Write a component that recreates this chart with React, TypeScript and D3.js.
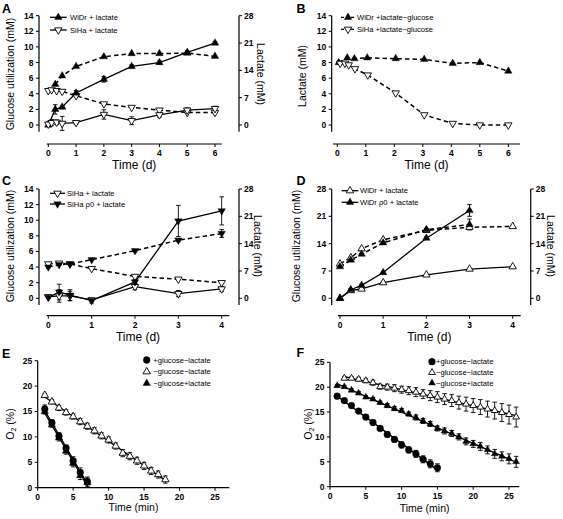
import React from "react";
import * as d3 from "d3";

const FONT = "'Liberation Sans', Arial, Helvetica, sans-serif";

// ---------- Panel A ----------
const aWidrTime = [0, 0.25, 0.5, 1, 2, 3, 4, 5, 6];
const aWidrGlucose = [0, 2.0, 2.3, 4.1, 5.85, 7.5, 8.0, 9.3, 10.5];
const aWidrGlucoseErr = [0, 0.6, 0.2, 0.3, 0.35, 0.2, 0.2, 0.2, 0.2];
const aWidrLactTime = [0.25, 0.5, 1, 2, 3, 4, 5, 6];
const aWidrLactate = [10.4, 12.6, 15.0, 17.5, 18.3, 18.3, 18.4, 17.6];
const aSihaTime = [0, 0.12, 0.3, 0.5, 1, 2, 3, 4, 5, 6];
const aSihaGlucose = [0.1, 0.3, 0.35, 0.2, 0.3, 1.35, 0.55, 1.3, 1.9, 2.1];
const aSihaGlucoseErr = [0.3, 0.4, 0.3, 0.9, 0.2, 0.6, 0.5, 0.3, 0.3, 0.3];
const aSihaLactate = [8.8, 9.0, 8.8, 8.6, 7.5, 5.4, 4.5, 3.8, 3.2, 3.2];

// ---------- Panel B ----------
const bWidrTime = [0.05, 0.35, 0.6, 1.05, 2.05, 3.05, 4.05, 5, 6];
const bWidrLactate = [8.0, 8.6, 8.5, 8.6, 8.5, 8.4, 7.9, 8.0, 6.9];
const bSihaTime = [0.1, 0.27, 0.4, 0.62, 1.07, 2.05, 3.05, 4.05, 5, 6];
const bSihaLactate = [7.9, 7.9, 7.7, 7.2, 6.4, 4.1, 1.3, 0.2, 0, 0];

// ---------- Panel C ----------
const cTime = [0, 0.25, 0.5, 1, 2, 3, 4];
const cSihaGlucose = [0.2, 0.3, 0.3, -0.2, 1.5, 0.6, 1.2];
const cSihaGlucoseErr = [0.2, 0.8, 0.6, 0.2, 0.4, 0.4, 0.3];
const cRho0Glucose = [0.1, 0.8, 0.4, -0.3, 2.1, 9.9, 11.2];
const cRho0GlucoseErr = [0.1, 1.0, 0.7, 0.3, 0.3, 2.0, 1.8];
const cSihaLactate = [8.8, 9.0, 8.8, 7.6, 5.6, 4.9, 4.0];
const cRho0Lactate = [8.0, 8.6, 8.8, 9.9, 12.2, 14.9, 16.6];
const cRho0LactateErr = [0.2, 0.2, 0.2, 0.2, 0.3, 0.4, 1.0];

// ---------- Panel D ----------
const dWidrTime = [0, 0.25, 0.5, 1, 2, 3, 4];
const dWidrGlucose = [0, 2.0, 2.4, 4.0, 6.0, 7.5, 8.1];
const dWidrLactate = [8.8, 10.4, 12.7, 15.0, 17.4, 18.2, 18.4];
const dRho0Time = [0, 0.25, 0.5, 1, 2, 3];
const dRho0Glucose = [0, 2.2, 3.3, 6.6, 15.4, 22.5];
const dRho0GlucoseErr = [0, 0.3, 0.3, 0.3, 0.3, 1.5];
const dRho0Lactate = [8.1, 9.8, 11.3, 14.2, 17.6, 18.9];
const dRho0LactateErr = [0.2, 0.2, 0.2, 0.2, 0.3, 1.4];

// ---------- Panel E ----------
const eShortTime = [1, 2, 3, 4, 5, 6, 7];
const eGlcPlusLacMinus = [15.5, 12.8, 10.2, 7.8, 5.3, 3.0, 1.2];
const eGlcPlusLacMinusErr = [0.8, 0.5, 0.6, 0.6, 0.8, 0.9, 0.9];
const eGlcMinusLacPlus = [15.0, 12.4, 9.8, 7.2, 4.8, 2.4, 1.0];
const eGlcMinusLacPlusErr = [0.5, 0.5, 0.6, 0.6, 0.7, 0.8, 0.9];
const eLongTime = [1, 2, 3, 4, 5, 6, 7, 8, 9, 10, 11, 12, 13, 14, 15, 16, 17, 18];
const eGlcMinusLacMinus = [18.2, 16.9, 15.7, 14.8, 14.0, 13.0, 12.1, 11.2, 10.2, 9.4, 8.2, 6.8, 6.2, 5.3, 4.3, 3.3, 2.6, 1.6];
const eGlcMinusLacMinusErr = [0.3, 0.4, 0.5, 0.5, 0.5, 0.6, 0.6, 0.6, 0.6, 0.6, 0.6, 0.7, 0.7, 0.7, 0.7, 0.7, 0.7, 0.7];

// ---------- Panel F ----------
const fCircleTime = [1, 2, 3, 4, 5, 6, 7, 8, 9, 10, 11, 12, 13, 14, 15];
const fGlcPlusLacMinus = [18.2, 17.3, 16.3, 15.2, 14.0, 12.9, 11.7, 10.5, 9.5, 8.4, 7.4, 6.6, 5.5, 4.6, 3.8];
const fGlcPlusLacMinusErr = [0.2, 0.2, 0.2, 0.3, 0.3, 0.4, 0.4, 0.5, 0.5, 0.6, 0.6, 0.7, 0.7, 0.8, 0.8];
const fOpenTime = [2, 3, 4, 5, 6, 7, 8, 9, 10, 11, 12, 13, 14, 15, 16, 17, 18, 19, 20, 21, 22, 23, 24, 25, 26];
const fGlcMinusLacMinus = [21.8, 21.8, 21.6, 21.3, 20.9, 20.1, 20.0, 19.8, 19.5, 19.3, 19.0, 18.6, 18.3, 18.0, 17.6, 17.3, 16.9, 16.6, 16.3, 16.0, 15.6, 15.3, 14.9, 14.5, 14.0];
const fGlcMinusLacMinusErr = [0.3, 0.3, 0.4, 0.4, 0.5, 0.5, 0.6, 0.7, 0.7, 0.8, 0.9, 0.9, 1.0, 1.1, 1.1, 1.2, 1.3, 1.4, 1.4, 1.5, 1.6, 1.7, 1.8, 1.9, 2.0];
const fTriTime = [1, 2, 3, 4, 5, 6, 7, 8, 9, 10, 11, 12, 13, 14, 15, 16, 17, 18, 19, 20, 21, 22, 23, 24, 25, 26];
const fGlcMinusLacPlus = [20.3, 20.1, 19.4, 18.8, 18.0, 17.6, 16.9, 16.3, 15.7, 15.3, 14.6, 13.9, 13.2, 12.6, 11.7, 11.2, 10.7, 10.0, 9.1, 8.6, 8.1, 7.4, 6.6, 6.1, 5.6, 5.0];
const fGlcMinusLacPlusErr = [0.2, 0.2, 0.3, 0.3, 0.3, 0.3, 0.3, 0.4, 0.4, 0.4, 0.4, 0.5, 0.5, 0.5, 0.5, 0.6, 0.6, 0.6, 0.7, 0.7, 0.8, 0.8, 0.9, 0.9, 1.0, 1.1];

// ---------- ticks / labels ----------
const dayTicks6 = [0, 1, 2, 3, 4, 5, 6];
const dayTicks4 = [0, 1, 2, 3, 4];
const glucoseTicks14 = [0, 2, 4, 6, 8, 10, 12, 14];
const ticks28 = [0, 7, 14, 21, 28];
const minTicks = [0, 5, 10, 15, 20, 25];
const o2Ticks = [0, 5, 10, 15, 20, 25];

type Shape = "up" | "down" | "circle";
interface Series {
  t: number[];
  v: number[];
  err?: number[];
  shape: Shape;
  filled: boolean;
  dashed?: boolean;
  axis?: "L" | "R";
  fit?: boolean;
}
interface LegendItem { label: string; shape: Shape; filled: boolean; dashed?: boolean }
interface LegendCfg { line?: [number, number]; mx: number; tx: number; rows: number[]; items: LegendItem[] }
interface PanelCfg {
  letter: string; letterX: number; letterY: number;
  x: d3.ScaleLinear<number, number>;
  yL: d3.ScaleLinear<number, number>;
  yR?: d3.ScaleLinear<number, number>;
  xTicks: number[]; yLTicks: number[]; yRTicks?: number[];
  axisLeftX: number; axisRightX?: number; axisBottomY: number;
  xLine: [number, number]; yLineDomain: [number, number];
  xTitle: string; xTitleY: number; xTitleSize: number;
  yTitle: React.ReactNode; yTitleX: number; yTitleY: number;
  yRTitle?: string; yRTitleX?: number;
  series: Series[];
  legend: LegendCfg;
  triSize?: number;
}

const triPath = (size: number) => d3.symbol().type(d3.symbolTriangle).size(size)() as string;
const circlePath = d3.symbol().type(d3.symbolCircle).size(36)() as string;

function Marker({ x, y, shape, filled, size }: { x: number; y: number; shape: Shape; filled: boolean; size: number }) {
  const d = shape === "circle" ? circlePath : triPath(size);
  const rot = shape === "down" ? " rotate(180)" : "";
  return (
    <path
      d={d}
      transform={`translate(${x},${y})${rot}`}
      fill={filled ? "#000" : "#fff"}
      stroke="#000"
      strokeWidth={filled ? 0.4 : 0.9}
    />
  );
}

function fitLine(t: number[], v: number[]) {
  const mt = d3.mean(t) as number;
  const mv = d3.mean(v) as number;
  const sxy = d3.sum(t, (ti, i) => (ti - mt) * (v[i] - mv));
  const sxx = d3.sum(t, (ti) => (ti - mt) * (ti - mt));
  const slope = sxy / sxx;
  const icpt = mv - slope * mt;
  const [t0, t1] = d3.extent(t) as [number, number];
  return [
    [t0, icpt + slope * t0],
    [t1, icpt + slope * t1],
  ] as [number, number][];
}

function Panel({ c }: { c: PanelCfg }) {
  const triSize = c.triSize ?? 24;
  const ys = (s: Series) => (s.axis === "R" && c.yR ? c.yR : c.yL);
  const tickFont = { fontFamily: FONT, fontSize: 8.5, fontWeight: 700 as const };
  const [yl0, yl1] = c.yLineDomain;
  return (
    <g>
      <text x={c.letterX} y={c.letterY} fontFamily={FONT} fontSize={12.5} fontWeight={700}>{c.letter}</text>
      {/* left axis */}
      <line x1={c.axisLeftX} x2={c.axisLeftX} y1={c.yL(yl1)} y2={c.yL(yl0)} stroke="#000" strokeWidth={1.2} />
      {c.yLTicks.map((v) => (
        <g key={"yl" + v}>
          <line x1={c.axisLeftX - 3} x2={c.axisLeftX} y1={c.yL(v)} y2={c.yL(v)} stroke="#000" strokeWidth={1} />
          <text x={c.axisLeftX - 5.5} y={c.yL(v)} dy="0.35em" textAnchor="end" {...tickFont}>{v}</text>
        </g>
      ))}
      {/* right axis */}
      {c.yR && c.axisRightX !== undefined && (
        <g>
          <line x1={c.axisRightX} x2={c.axisRightX} y1={c.yL(yl1)} y2={c.yL(yl0)} stroke="#000" strokeWidth={1.2} />
          {(c.yRTicks || []).map((v) => (
            <g key={"yr" + v}>
              <line x1={c.axisRightX!} x2={c.axisRightX! + 3} y1={c.yR!(v)} y2={c.yR!(v)} stroke="#000" strokeWidth={1} />
              <text x={c.axisRightX! + 5} y={c.yR!(v)} dy="0.35em" textAnchor="start" {...tickFont}>{v}</text>
            </g>
          ))}
          <text
            transform={`translate(${c.yRTitleX},${c.yTitleY}) rotate(90)`}
            textAnchor="middle"
            dy="0.35em"
            fontFamily={FONT}
            fontSize={10.5}
          >{c.yRTitle}</text>
        </g>
      )}
      {/* bottom axis */}
      <line x1={c.xLine[0]} x2={c.xLine[1]} y1={c.axisBottomY} y2={c.axisBottomY} stroke="#000" strokeWidth={1.2} />
      {c.xTicks.map((v) => (
        <g key={"x" + v}>
          <line x1={c.x(v)} x2={c.x(v)} y1={c.axisBottomY} y2={c.axisBottomY + 3} stroke="#000" strokeWidth={1} />
          <text x={c.x(v)} y={c.axisBottomY + 11.8} textAnchor="middle" {...tickFont}>{v}</text>
        </g>
      ))}
      <text x={(c.xLine[0] + c.xLine[1]) / 2} y={c.xTitleY} textAnchor="middle" fontFamily={FONT} fontSize={c.xTitleSize}>{c.xTitle}</text>
      <text
        transform={`translate(${c.yTitleX},${c.yTitleY}) rotate(-90)`}
        textAnchor="middle"
        dy="0.35em"
        fontFamily={FONT}
        fontSize={10.5}
      >{c.yTitle}</text>

      {/* lines */}
      {c.series.map((s, i) => {
        const y = ys(s);
        if (s.fit) {
          const pts = fitLine(s.t, s.v);
          return (
            <line key={"l" + i} x1={c.x(pts[0][0])} y1={y(pts[0][1])} x2={c.x(pts[1][0])} y2={y(pts[1][1])} stroke="#000" strokeWidth={1.3} />
          );
        }
        const gen = d3.line<number>().x((_, j) => c.x(s.t[j])).y((v) => y(v));
        return (
          <path key={"l" + i} d={gen(s.v) as string} fill="none" stroke="#000" strokeWidth={s.dashed ? 1.5 : 1.3} strokeDasharray={s.dashed ? "4.5,3" : undefined} />
        );
      })}
      {/* error bars */}
      {c.series.map((s, i) => {
        const y = ys(s);
        if (!s.err) return null;
        return (
          <g key={"e" + i}>
            {s.err.map((e, j) => {
              if (!e) return null;
              const cx = c.x(s.t[j]);
              const top = y(s.v[j] + e);
              const bot = y(s.v[j] - e);
              return (
                <g key={j}>
                  <line x1={cx} x2={cx} y1={top} y2={bot} stroke="#000" strokeWidth={0.9} />
                  <line x1={cx - 2.3} x2={cx + 2.3} y1={top} y2={top} stroke="#000" strokeWidth={0.9} />
                  <line x1={cx - 2.3} x2={cx + 2.3} y1={bot} y2={bot} stroke="#000" strokeWidth={0.9} />
                </g>
              );
            })}
          </g>
        );
      })}
      {/* markers */}
      {c.series.map((s, i) => {
        const y = ys(s);
        return (
          <g key={"m" + i}>
            {s.v.map((v, j) => (
              <Marker key={j} x={c.x(s.t[j])} y={y(v)} shape={s.shape} filled={s.filled} size={triSize} />
            ))}
          </g>
        );
      })}
      {/* legend */}
      {c.legend.items.map((it, k) => {
        const ry = c.legend.rows[k];
        return (
          <g key={"lg" + k}>
            {c.legend.line && (
              <line x1={c.legend.line[0]} x2={c.legend.line[1]} y1={ry} y2={ry} stroke="#000" strokeWidth={1.3} strokeDasharray={it.dashed ? "3,2" : undefined} />
            )}
            <Marker x={c.legend.mx} y={ry} shape={it.shape} filled={it.filled} size={triSize} />
            <text x={c.legend.tx} y={ry} dy="0.35em" fontFamily={FONT} fontSize={7.6}>{it.label}</text>
          </g>
        );
      })}
    </g>
  );
}

const o2Title = (
  <>
    <tspan>O</tspan>
    <tspan fontSize={7} dy={2.5}>2</tspan>
    <tspan dy={-2.5}> (%)</tspan>
  </>
);

export default function App() {
  const panels: PanelCfg[] = [
    {
      letter: "A", letterX: 2, letterY: 12.5,
      x: d3.scaleLinear().domain([0, 6]).range([48.3, 215]),
      yL: d3.scaleLinear().domain([0, 14]).range([125, 15.7]),
      yR: d3.scaleLinear().domain([0, 28]).range([125, 15.7]),
      xTicks: dayTicks6, yLTicks: glucoseTicks14, yRTicks: ticks28,
      axisLeftX: 39, axisRightX: 239, axisBottomY: 144,
      xLine: [46.7, 221.7], yLineDomain: [-0.85, 14],
      xTitle: "Time (d)", xTitleY: 168.5, xTitleSize: 12,
      yTitle: "Glucose utilization (mM)", yTitleX: 10, yTitleY: 74,
      yRTitle: "Lactate (mM)", yRTitleX: 261,
      series: [
        { t: aWidrLactTime, v: aWidrLactate, shape: "up", filled: true, dashed: true, axis: "R" },
        { t: aSihaTime, v: aSihaLactate, shape: "down", filled: false, dashed: true, axis: "R" },
        { t: aWidrTime, v: aWidrGlucose, err: aWidrGlucoseErr, shape: "up", filled: true },
        { t: aSihaTime, v: aSihaGlucose, err: aSihaGlucoseErr, shape: "down", filled: false },
      ],
      legend: {
        line: [50, 66.7], mx: 58.3, tx: 70, rows: [17.3, 30],
        items: [
          { label: "WiDr + lactate", shape: "up", filled: true },
          { label: "SiHa + lactate", shape: "down", filled: false },
        ],
      },
    },
    {
      letter: "B", letterX: 296.5, letterY: 12.5,
      x: d3.scaleLinear().domain([0, 6]).range([337.3, 508.3]),
      yL: d3.scaleLinear().domain([0, 14]).range([125, 15.7]),
      xTicks: dayTicks6, yLTicks: glucoseTicks14,
      axisLeftX: 331.7, axisBottomY: 144,
      xLine: [333, 520], yLineDomain: [-0.85, 14],
      xTitle: "Time (d)", xTitleY: 168.5, xTitleSize: 12,
      yTitle: "Lactate (mM)", yTitleX: 302, yTitleY: 76,
      series: [
        { t: bWidrTime, v: bWidrLactate, shape: "up", filled: true, dashed: true },
        { t: bSihaTime, v: bSihaLactate, shape: "down", filled: false, dashed: true },
      ],
      legend: {
        line: [341, 355.5], mx: 348, tx: 357, rows: [17.3, 29.3],
        items: [
          { label: "WiDr +lactate\u2212glucose", shape: "up", filled: true, dashed: true },
          { label: "SiHa +lactate\u2212glucose", shape: "down", filled: false, dashed: true },
        ],
      },
    },
    {
      letter: "C", letterX: 2, letterY: 185,
      x: d3.scaleLinear().domain([0, 4]).range([48.3, 221.7]),
      yL: d3.scaleLinear().domain([0, 14]).range([298.3, 189]),
      yR: d3.scaleLinear().domain([0, 28]).range([298.3, 189]),
      xTicks: dayTicks4, yLTicks: glucoseTicks14, yRTicks: ticks28,
      axisLeftX: 39, axisRightX: 239, axisBottomY: 315.7,
      xLine: [46.7, 229.3], yLineDomain: [-0.85, 14],
      xTitle: "Time (d)", xTitleY: 341, xTitleSize: 12,
      yTitle: "Glucose utilization (mM)", yTitleX: 10, yTitleY: 246,
      yRTitle: "Lactate (mM)", yRTitleX: 258,
      series: [
        { t: cTime, v: cSihaLactate, shape: "down", filled: false, dashed: true, axis: "R" },
        { t: cTime, v: cRho0Lactate, err: cRho0LactateErr, shape: "down", filled: true, dashed: true, axis: "R" },
        { t: cTime, v: cSihaGlucose, err: cSihaGlucoseErr, shape: "down", filled: false },
        { t: cTime, v: cRho0Glucose, err: cRho0GlucoseErr, shape: "down", filled: true },
      ],
      legend: {
        line: [50, 65], mx: 57.5, tx: 67, rows: [193.3, 204],
        items: [
          { label: "SiHa + lactate", shape: "down", filled: false },
          { label: "SiHa \u03c10 + lactate", shape: "down", filled: true },
        ],
      },
    },
    {
      letter: "D", letterX: 296.5, letterY: 185,
      x: d3.scaleLinear().domain([0, 4]).range([340, 512.7]),
      yL: d3.scaleLinear().domain([0, 28]).range([298.3, 189]),
      yR: d3.scaleLinear().domain([0, 28]).range([298.3, 189]),
      xTicks: dayTicks4, yLTicks: ticks28, yRTicks: ticks28,
      axisLeftX: 331.7, axisRightX: 530.7, axisBottomY: 315.7,
      xLine: [338, 520.7], yLineDomain: [-1.7, 28],
      xTitle: "Time (d)", xTitleY: 341, xTitleSize: 12,
      yTitle: "Glucose utilization (mM)", yTitleX: 296, yTitleY: 246,
      yRTitle: "Lactate (mM)", yRTitleX: 551,
      series: [
        { t: dWidrTime, v: dWidrLactate, shape: "up", filled: false, dashed: true, axis: "R" },
        { t: dRho0Time, v: dRho0Lactate, err: dRho0LactateErr, shape: "up", filled: true, dashed: true, axis: "R" },
        { t: dWidrTime, v: dWidrGlucose, shape: "up", filled: false },
        { t: dRho0Time, v: dRho0Glucose, err: dRho0GlucoseErr, shape: "up", filled: true },
      ],
      legend: {
        line: [341.7, 358.3], mx: 350, tx: 360, rows: [190.7, 202.3],
        items: [
          { label: "WiDr + lactate", shape: "up", filled: false },
          { label: "WiDr \u03c10 + lactate", shape: "up", filled: true },
        ],
      },
    },
    {
      letter: "E", letterX: 2, letterY: 358,
      x: d3.scaleLinear().domain([0, 25]).range([37.7, 215]),
      yL: d3.scaleLinear().domain([0, 25]).range([487.7, 360.7]),
      xTicks: minTicks, yLTicks: o2Ticks,
      axisLeftX: 37.7, axisBottomY: 487.7,
      xLine: [37.7, 229.3], yLineDomain: [0, 25],
      xTitle: "Time (min)", xTitleY: 511, xTitleSize: 10.5,
      yTitle: o2Title, yTitleX: 10, yTitleY: 424,
      triSize: 24,
      series: [
        { t: eLongTime, v: eGlcMinusLacMinus, err: eGlcMinusLacMinusErr, shape: "up", filled: false, fit: true },
        { t: eShortTime, v: eGlcMinusLacPlus, err: eGlcMinusLacPlusErr, shape: "up", filled: true, fit: true },
        { t: eShortTime, v: eGlcPlusLacMinus, err: eGlcPlusLacMinusErr, shape: "circle", filled: true, fit: true },
      ],
      legend: {
        mx: 146.7, tx: 153.3, rows: [360, 371.7, 383.3],
        items: [
          { label: "+glucose\u2212lactate", shape: "circle", filled: true },
          { label: "\u2212glucose\u2212lactate", shape: "up", filled: false },
          { label: "\u2212glucose+lactate", shape: "up", filled: true },
        ],
      },
    },
    {
      letter: "F", letterX: 296.5, letterY: 357,
      x: d3.scaleLinear().domain([0, 25]).range([330, 509]),
      yL: d3.scaleLinear().domain([0, 25]).range([486.7, 362.3]),
      xTicks: minTicks, yLTicks: o2Ticks,
      axisLeftX: 330, axisBottomY: 486.7,
      xLine: [330, 519.3], yLineDomain: [0, 25],
      xTitle: "Time (min)", xTitleY: 512, xTitleSize: 10.5,
      yTitle: o2Title, yTitleX: 308, yTitleY: 424,
      triSize: 20,
      series: [
        { t: fOpenTime, v: fGlcMinusLacMinus, err: fGlcMinusLacMinusErr, shape: "up", filled: false, fit: true },
        { t: fTriTime, v: fGlcMinusLacPlus, err: fGlcMinusLacPlusErr, shape: "up", filled: true, fit: true },
        { t: fCircleTime, v: fGlcPlusLacMinus, err: fGlcPlusLacMinusErr, shape: "circle", filled: true, fit: true },
      ],
      legend: {
        mx: 432, tx: 436, rows: [361.7, 372.5, 383],
        items: [
          { label: "+glucose\u2212lactate", shape: "circle", filled: true },
          { label: "\u2212glucose\u2212lactate", shape: "up", filled: false },
          { label: "\u2212glucose+lactate", shape: "up", filled: true },
        ],
      },
    },
  ];

  return (
    <svg
      width={563}
      height={519}
      viewBox="0 0 563 519"
      style={{ position: "absolute", left: 0, top: 0, background: "#fff" }}
    >
      <rect x={0} y={0} width={563} height={519} fill="#fff" />
      {panels.map((p) => (
        <Panel key={p.letter} c={p} />
      ))}
    </svg>
  );
}
